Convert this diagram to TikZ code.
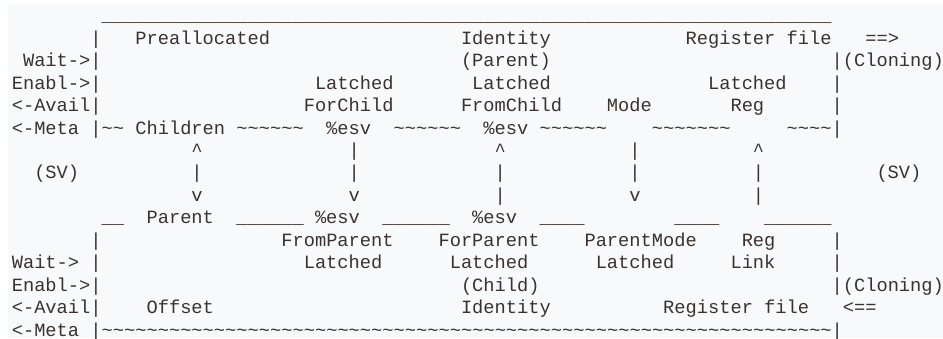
\documentclass[tikz,border=0pt]{standalone}
\usepackage{fontspec}
\newfontfamily\mono{Liberation Mono}
\ExplSyntaxOn
\cs_new:Npn \myrep #1#2 { \prg_replicate:nn {#1} {#2} }
\ExplSyntaxOff
\newcommand\Tl[1]{\myrep{#1}{\textasciitilde}}
\newcommand\Us[1]{\myrep{#1}{\textunderscore}}
\definecolor{ink}{RGB}{58,50,46}
\definecolor{paper}{RGB}{248,249,251}
\newcommand\frag[4]{\node[txt] (#1) at ({11.8+11.23*#2},{-44.3-22.44*(#3-1)}) {#4};}
\begin{document}
\begin{tikzpicture}[x=1pt,y=1pt,
  txt/.style={anchor=base west, inner sep=0pt, outer sep=0pt, text=ink,
    font=\mono\fontsize{18.72}{22.44}\selectfont}]
\fill[white] (0,0) rectangle (943,-338);
\fill[paper] (8,-5) rectangle (943,-338);
\useasboundingbox (0,0) rectangle (943,-338);
% row 0
\frag{r0a}{8}{0}{\Us{65}}
% row 1
\frag{r1a}{7}{1}{|}
\frag{r1b}{11}{1}{Preallocated}
\frag{r1c}{40}{1}{Identity}
\frag{r1d}{60}{1}{Register file}
\frag{r1e}{76}{1}{==>}
% row 2
\frag{r2a}{1}{2}{Wait->|}
\frag{r2b}{40}{2}{(Parent)}
\frag{r2c}{73}{2}{|(Cloning)}
% row 3
\frag{r3a}{0}{3}{Enabl->|}
\frag{r3b}{27}{3}{Latched}
\frag{r3c}{41}{3}{Latched}
\frag{r3d}{62}{3}{Latched}
\frag{r3e}{73}{3}{|}
% row 4
\frag{r4a}{0}{4}{<-Avail|}
\frag{r4b}{26}{4}{ForChild}
\frag{r4c}{40}{4}{FromChild}
\frag{r4d}{53}{4}{Mode}
\frag{r4e}{64}{4}{Reg}
\frag{r4f}{73}{4}{|}
% row 5
\frag{r5a}{0}{5}{<-Meta}
\frag{r5b}{7}{5}{|\Tl{2}}
\frag{r5c}{11}{5}{Children}
\frag{r5d}{20}{5}{\Tl{6}}
\frag{r5e}{28}{5}{\%esv}
\frag{r5f}{34}{5}{\Tl{6}}
\frag{r5g}{42}{5}{\%esv}
\frag{r5h}{47}{5}{\Tl{6}}
\frag{r5i}{57}{5}{\Tl{7}}
\frag{r5j}{69}{5}{\Tl{4}|}
% row 6
\frag{r6a}{16}{6}{\textasciicircum}
\frag{r6b}{30}{6}{|}
\frag{r6c}{43}{6}{\textasciicircum}
\frag{r6d}{55}{6}{|}
\frag{r6e}{66}{6}{\textasciicircum}
% row 7
\frag{r7a}{2}{7}{(SV)}
\frag{r7b}{16}{7}{|}
\frag{r7c}{30}{7}{|}
\frag{r7d}{43}{7}{|}
\frag{r7e}{55}{7}{|}
\frag{r7f}{66}{7}{|}
\frag{r7g}{77}{7}{(SV)}
% row 8
\frag{r8a}{16}{8}{v}
\frag{r8b}{30}{8}{v}
\frag{r8c}{43}{8}{|}
\frag{r8d}{55}{8}{v}
\frag{r8e}{66}{8}{|}
% row 9
\frag{r9a}{8}{9}{\Us{2}}
\frag{r9b}{12}{9}{Parent}
\frag{r9c}{20}{9}{\Us{6}}
\frag{r9d}{27}{9}{\%esv}
\frag{r9e}{33}{9}{\Us{6}}
\frag{r9f}{41}{9}{\%esv}
\frag{r9g}{47}{9}{\Us{4}}
\frag{r9h}{59}{9}{\Us{4}}
\frag{r9i}{67}{9}{\Us{6}}
% row 10
\frag{r10a}{7}{10}{|}
\frag{r10b}{24}{10}{FromParent}
\frag{r10c}{38}{10}{ForParent}
\frag{r10d}{51}{10}{ParentMode}
\frag{r10e}{65}{10}{Reg}
\frag{r10f}{73}{10}{|}
% row 11
\frag{r11a}{0}{11}{Wait->}
\frag{r11b}{7}{11}{|}
\frag{r11c}{26}{11}{Latched}
\frag{r11d}{39}{11}{Latched}
\frag{r11e}{52}{11}{Latched}
\frag{r11f}{64}{11}{Link}
\frag{r11g}{73}{11}{|}
% row 12
\frag{r12a}{0}{12}{Enabl->|}
\frag{r12b}{40}{12}{(Child)}
\frag{r12c}{73}{12}{|(Cloning)}
% row 13
\frag{r13a}{0}{13}{<-Avail|}
\frag{r13b}{12}{13}{Offset}
\frag{r13c}{40}{13}{Identity}
\frag{r13d}{58}{13}{Register file}
\frag{r13e}{74}{13}{<==}
% row 14
\frag{r14a}{0}{14}{<-Meta}
\frag{r14b}{7}{14}{|\Tl{65}|}
\end{tikzpicture}
\end{document}
